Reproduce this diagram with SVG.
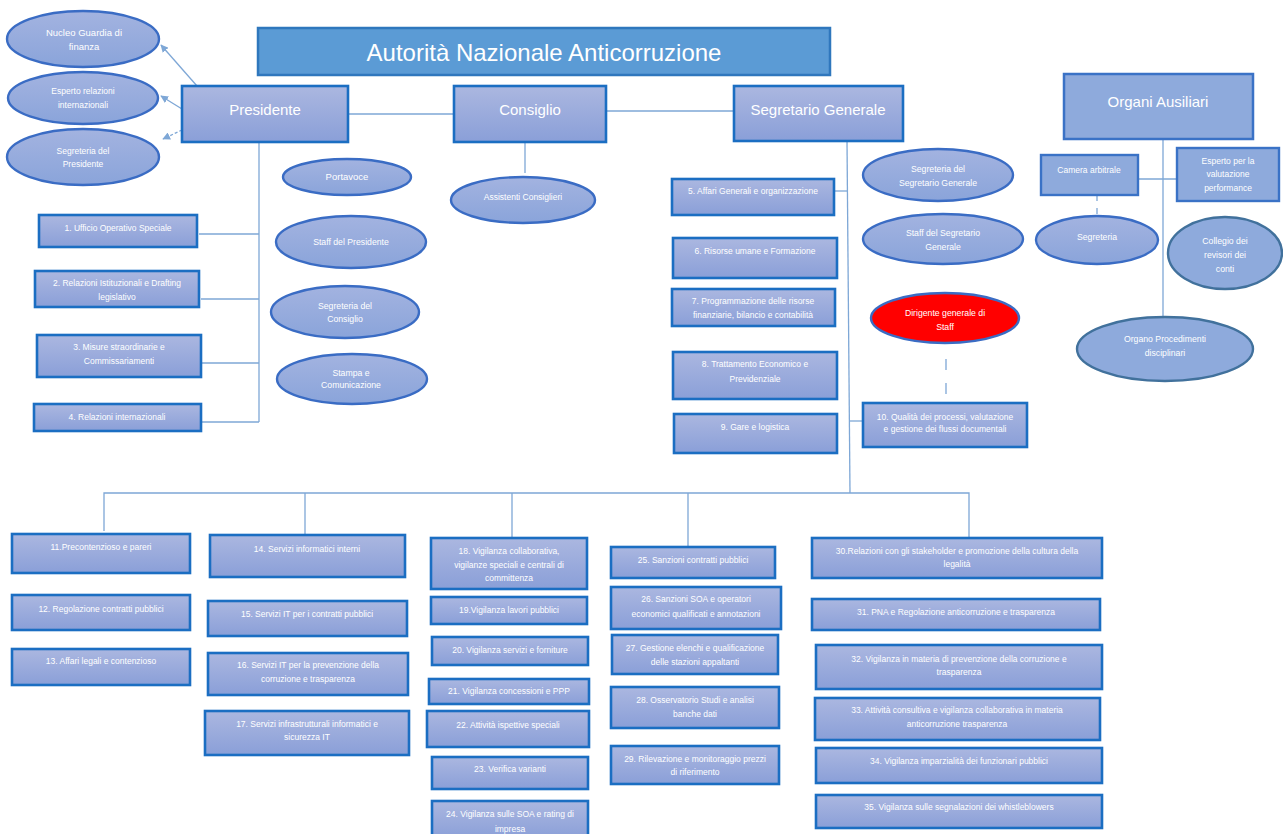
<svg xmlns="http://www.w3.org/2000/svg" width="1283" height="834" viewBox="0 0 1283 834">
<style>
.bx{fill:url(#gb);stroke:#1b6ec2;stroke-width:2.6}
.el{fill:url(#ge);stroke:#3a6cc4;stroke-width:2.4}
.t{font-family:"Liberation Sans",Arial,sans-serif;fill:#fff;text-anchor:middle;font-size:8.5px}
.te{font-family:"Liberation Sans",Arial,sans-serif;fill:#fff;text-anchor:middle;font-size:8.7px}
.big{font-family:"Liberation Sans",Arial,sans-serif;fill:#fff;text-anchor:middle;font-size:15px}
.c{fill:none;stroke:#7ea7d6;stroke-width:1.3}
</style>
<defs>
<linearGradient id="gb" x1="0" y1="0" x2="0" y2="1"><stop offset="0" stop-color="#abb7e0"/><stop offset="1" stop-color="#8a9fd8"/></linearGradient>
<linearGradient id="ge" x1="0" y1="0" x2="0" y2="1"><stop offset="0" stop-color="#a3b3e0"/><stop offset="1" stop-color="#8aa4da"/></linearGradient>
<marker id="ar" viewBox="0 0 10 10" refX="9" refY="5" markerWidth="6" markerHeight="6" orient="auto"><path d="M0,0L10,5L0,10z" fill="#7ea7d6"/></marker>
</defs>
<rect width="1283" height="834" fill="#fff"/>

<g id="connectors">
<line class="c" x1="348" y1="114" x2="454" y2="114"/>
<line class="c" x1="606" y1="111" x2="734" y2="111"/>
<line class="c" x1="197" y1="86" x2="161" y2="45" marker-end="url(#ar)"/>
<line class="c" x1="182" y1="109" x2="161" y2="96" marker-end="url(#ar)"/>
<line class="c" x1="182" y1="130" x2="163" y2="139" stroke-dasharray="3,2" marker-end="url(#ar)"/>
<polyline class="c" points="259,142 259,422"/>
<line class="c" x1="199" y1="234" x2="259" y2="234"/>
<line class="c" x1="201" y1="299" x2="259" y2="299"/>
<line class="c" x1="202" y1="363" x2="259" y2="363"/>
<line class="c" x1="202" y1="422" x2="259" y2="422"/>
<line class="c" x1="525" y1="142" x2="525" y2="173"/>
<line class="c" x1="847" y1="141" x2="850" y2="493"/>
<line class="c" x1="835" y1="191" x2="847" y2="191"/>
<line class="c" x1="849" y1="421" x2="863" y2="421"/>
<line class="c" x1="946" y1="359" x2="946" y2="400" stroke-dasharray="11,13"/>
<line class="c" x1="1163" y1="140" x2="1163" y2="317"/>
<line class="c" x1="1138" y1="179" x2="1177" y2="179"/>
<line class="c" x1="1097" y1="195" x2="1097" y2="217" stroke-dasharray="6,7"/>
<polyline class="c" points="104,531 104,493 969,493 969,537"/>
<line class="c" x1="305" y1="493" x2="305" y2="534"/>
<line class="c" x1="512" y1="493" x2="512" y2="537"/>
<line class="c" x1="688" y1="493" x2="688" y2="547"/>
</g>

<g id="title"><rect x="258" y="28" width="572" height="47" fill="#5b9bd5" stroke="#2f77bd" stroke-width="2.5"/><text x="544" y="61" class="big" style="font-size:24px">Autorità Nazionale Anticorruzione</text></g>
<g id="presidente"><rect class="bx" x="182" y="86" width="166" height="56"/><text class="big" x="265" y="115">Presidente</text></g>
<g id="consiglio"><rect class="bx" x="454" y="86" width="152" height="56"/><text class="big" x="530" y="115">Consiglio</text></g>
<g id="segretario"><rect class="bx" x="734" y="86" width="169" height="55"/><text class="big" x="818" y="115">Segretario Generale</text></g>
<g id="organi"><rect x="1064" y="74" width="189" height="65" fill="#8eaadc" stroke="#3a72c6" stroke-width="2.5"/><text class="big" x="1158" y="107">Organi Ausiliari</text></g>

<g id="nucleo"><ellipse class="el" cx="83" cy="39" rx="76" ry="28"/><text class="te" x="84" y="36" style="font-size:9.5px">Nucleo Guardia di</text><text class="te" x="84" y="50" style="font-size:9.5px">finanza</text></g>
<g id="esperto-rel"><ellipse class="el" cx="83" cy="98" rx="75" ry="26"/><text class="t" x="83" y="94">Esperto relazioni</text><text class="t" x="83" y="108">internazionali</text></g>
<g id="segr-pres"><ellipse class="el" cx="83" cy="157" rx="76" ry="28"/><text class="t" x="83" y="154">Segreteria del</text><text class="t" x="83" y="167">Presidente</text></g>
<g id="portavoce"><ellipse class="el" cx="347" cy="177" rx="64" ry="18"/><text class="te" x="347" y="180" style="font-size:9.5px">Portavoce</text></g>
<g id="staff-pres"><ellipse class="el" cx="351" cy="242" rx="75" ry="26"/><text class="te" x="351" y="245">Staff del Presidente</text></g>
<g id="segr-cons"><ellipse class="el" cx="345" cy="312" rx="74" ry="26"/><text class="te" x="345" y="309">Segreteria del</text><text class="te" x="345" y="322">Consiglio</text></g>
<g id="stampa"><ellipse class="el" cx="352" cy="379" rx="75" ry="25"/><text class="te" x="351" y="376">Stampa e</text><text class="te" x="351" y="388">Comunicazione</text></g>
<g id="assistenti"><ellipse class="el" cx="523" cy="200" rx="72" ry="23"/><text class="t" x="523" y="200">Assistenti Consiglieri</text></g>
<g id="segr-sg"><ellipse class="el" cx="938" cy="175" rx="75" ry="26"/><text class="te" x="938" y="172">Segreteria del</text><text class="te" x="938" y="186">Segretario Generale</text></g>
<g id="staff-sg"><ellipse class="el" cx="943" cy="239" rx="80" ry="25"/><text class="te" x="943" y="236">Staff del Segretario</text><text class="te" x="943" y="250">Generale</text></g>
<g id="dirigente"><ellipse cx="945" cy="318" rx="74" ry="25" fill="#ff0000" stroke="#3a6cc4" stroke-width="2.4"/><text class="te" x="945" y="316">Dirigente generale di</text><text class="te" x="945" y="330">Staff</text></g>

<g id="camera"><rect x="1041" y="155" width="97" height="40" fill="#8eaadc" stroke="#3a72c6" stroke-width="2.4"/><text class="t" x="1089" y="173">Camera arbitrale</text></g>
<g id="esperto-perf"><rect x="1177" y="148" width="102" height="53" fill="#8eaadc" stroke="#3a72c6" stroke-width="2.4"/><text class="t" x="1228" y="164">Esperto per la</text><text class="t" x="1228" y="177">valutazione</text><text class="t" x="1228" y="191">performance</text></g>
<g id="segreteria-oa"><ellipse class="el" cx="1097" cy="240" rx="61" ry="24"/><text class="te" x="1097" y="240">Segreteria</text></g>
<g id="collegio"><ellipse cx="1225" cy="253" rx="57" ry="36" fill="#8eaadc" stroke="#41719c" stroke-width="2.4"/><text class="te" x="1225" y="244">Collegio dei</text><text class="te" x="1225" y="258">revisori dei</text><text class="te" x="1225" y="272">conti</text></g>
<g id="organo"><ellipse cx="1165" cy="349" rx="88" ry="32" fill="#8eaadc" stroke="#41719c" stroke-width="2.4"/><text class="te" x="1165" y="342">Organo Procedimenti</text><text class="te" x="1165" y="356">disciplinari</text></g>

<g id="u1"><rect class="bx" x="39" y="215" width="158" height="32"/><text class="t" x="118" y="231">1. Ufficio Operativo Speciale</text></g>
<g id="u2"><rect class="bx" x="35" y="271" width="164" height="36"/><text class="t" x="117" y="286">2. Relazioni Istituzionali e Drafting</text><text class="t" x="117" y="300">legislativo</text></g>
<g id="u3"><rect class="bx" x="37" y="335" width="164" height="42"/><text class="t" x="119" y="350">3. Misure straordinarie e</text><text class="t" x="119" y="364">Commissariamenti</text></g>
<g id="u4"><rect class="bx" x="34" y="404" width="167" height="27"/><text class="t" x="117" y="420">4. Relazioni internazionali</text></g>
<g id="u5"><rect class="bx" x="672" y="179" width="162" height="36"/><text class="t" x="753" y="194">5. Affari Generali e organizzazione</text></g>
<g id="u6"><rect class="bx" x="673" y="238" width="164" height="40"/><text class="t" x="755" y="254">6. Risorse umane e Formazione</text></g>
<g id="u7"><rect class="bx" x="672" y="289" width="163" height="37"/><text class="t" x="753" y="304">7. Programmazione delle risorse</text><text class="t" x="753" y="318">finanziarie, bilancio e contabilità</text></g>
<g id="u8"><rect class="bx" x="673" y="352" width="164" height="47"/><text class="t" x="755" y="367">8. Trattamento Economico e</text><text class="t" x="755" y="382">Previdenziale</text></g>
<g id="u9"><rect class="bx" x="674" y="414" width="163" height="39"/><text class="t" x="755" y="430">9. Gare e logistica</text></g>
<g id="u10"><rect class="bx" x="863" y="403" width="164" height="44"/><text class="t" x="945" y="420">10. Qualità dei processi, valutazione</text><text class="t" x="945" y="432">e  gestione dei flussi documentali</text></g>

<g id="u11"><rect class="bx" x="12" y="534" width="178" height="39"/><text class="t" x="101" y="550">11.Precontenzioso e pareri</text></g>
<g id="u12"><rect class="bx" x="12" y="595" width="178" height="35"/><text class="t" x="101" y="612">12. Regolazione contratti pubblici</text></g>
<g id="u13"><rect class="bx" x="12" y="649" width="178" height="36"/><text class="t" x="101" y="664">13.  Affari legali e contenzioso</text></g>
<g id="u14"><rect class="bx" x="210" y="535" width="195" height="42"/><text class="t" x="307" y="552">14. Servizi informatici interni</text></g>
<g id="u15"><rect class="bx" x="208" y="601" width="199" height="35"/><text class="t" x="307" y="617">15. Servizi IT per i contratti pubblici</text></g>
<g id="u16"><rect class="bx" x="208" y="653" width="200" height="42"/><text class="t" x="308" y="668">16. Servizi IT per la prevenzione della</text><text class="t" x="308" y="682">corruzione e trasparenza</text></g>
<g id="u17"><rect class="bx" x="205" y="711" width="204" height="44"/><text class="t" x="307" y="727">17. Servizi infrastrutturali informatici e</text><text class="t" x="307" y="740">sicurezza IT</text></g>
<g id="u18"><rect class="bx" x="431" y="538" width="156" height="51"/><text class="t" x="509" y="554">18. Vigilanza collaborativa,</text><text class="t" x="509" y="568">vigilanze speciali e centrali di</text><text class="t" x="509" y="581">committenza</text></g>
<g id="u19"><rect class="bx" x="431" y="597" width="156" height="27"/><text class="t" x="509" y="613">19.Vigilanza lavori pubblici</text></g>
<g id="u20"><rect class="bx" x="432" y="637" width="156" height="28"/><text class="t" x="510" y="653">20. Vigilanza servizi e forniture</text></g>
<g id="u21"><rect class="bx" x="429" y="679" width="160" height="25"/><text class="t" x="509" y="694">21. Vigilanza concessioni e PPP</text></g>
<g id="u22"><rect class="bx" x="427" y="711" width="162" height="36"/><text class="t" x="508" y="728">22. Attività ispettive speciali</text></g>
<g id="u23"><rect class="bx" x="432" y="757" width="156" height="32"/><text class="t" x="510" y="772">23. Verifica varianti</text></g>
<g id="u24"><rect class="bx" x="432" y="801" width="156" height="38"/><text class="t" x="510" y="817">24. Vigilanza sulle SOA e rating di</text><text class="t" x="510" y="832">impresa</text></g>
<g id="u25"><rect class="bx" x="611" y="547" width="164" height="31"/><text class="t" x="693" y="563">25. Sanzioni contratti pubblici</text></g>
<g id="u26"><rect class="bx" x="611" y="587" width="170" height="42"/><text class="t" x="696" y="602">26. Sanzioni SOA e operatori</text><text class="t" x="696" y="617">economici qualificati e annotazioni</text></g>
<g id="u27"><rect class="bx" x="612" y="635" width="166" height="39"/><text class="t" x="695" y="651">27. Gestione elenchi e qualificazione</text><text class="t" x="695" y="665">delle stazioni appaltanti</text></g>
<g id="u28"><rect class="bx" x="611" y="687" width="168" height="41"/><text class="t" x="695" y="703">28. Osservatorio Studi e analisi</text><text class="t" x="695" y="717">banche dati</text></g>
<g id="u29"><rect class="bx" x="611" y="746" width="168" height="38"/><text class="t" x="695" y="762">29. Rilevazione e monitoraggio prezzi</text><text class="t" x="695" y="775">di riferimento</text></g>
<g id="u30"><rect class="bx" x="812" y="538" width="290" height="40"/><text class="t" x="957" y="554">30.Relazioni con gli stakeholder e promozione della cultura della</text><text class="t" x="957" y="567">legalità</text></g>
<g id="u31"><rect class="bx" x="812" y="599" width="288" height="31"/><text class="t" x="956" y="615">31. PNA e Regolazione anticorruzione e trasparenza</text></g>
<g id="u32"><rect class="bx" x="816" y="645" width="286" height="44"/><text class="t" x="959" y="662">32. Vigilanza in materia di prevenzione della corruzione e</text><text class="t" x="959" y="675">trasparenza</text></g>
<g id="u33"><rect class="bx" x="815" y="698" width="285" height="42"/><text class="t" x="957" y="713">33. Attività consultiva e vigilanza collaborativa in materia</text><text class="t" x="957" y="727">anticorruzione trasparenza</text></g>
<g id="u34"><rect class="bx" x="816" y="748" width="286" height="35"/><text class="t" x="959" y="764">34. Vigilanza imparzialità dei funzionari pubblici</text></g>
<g id="u35"><rect class="bx" x="816" y="795" width="286" height="33"/><text class="t" x="959" y="810">35. Vigilanza sulle segnalazioni dei whistleblowers</text></g>
</svg>
